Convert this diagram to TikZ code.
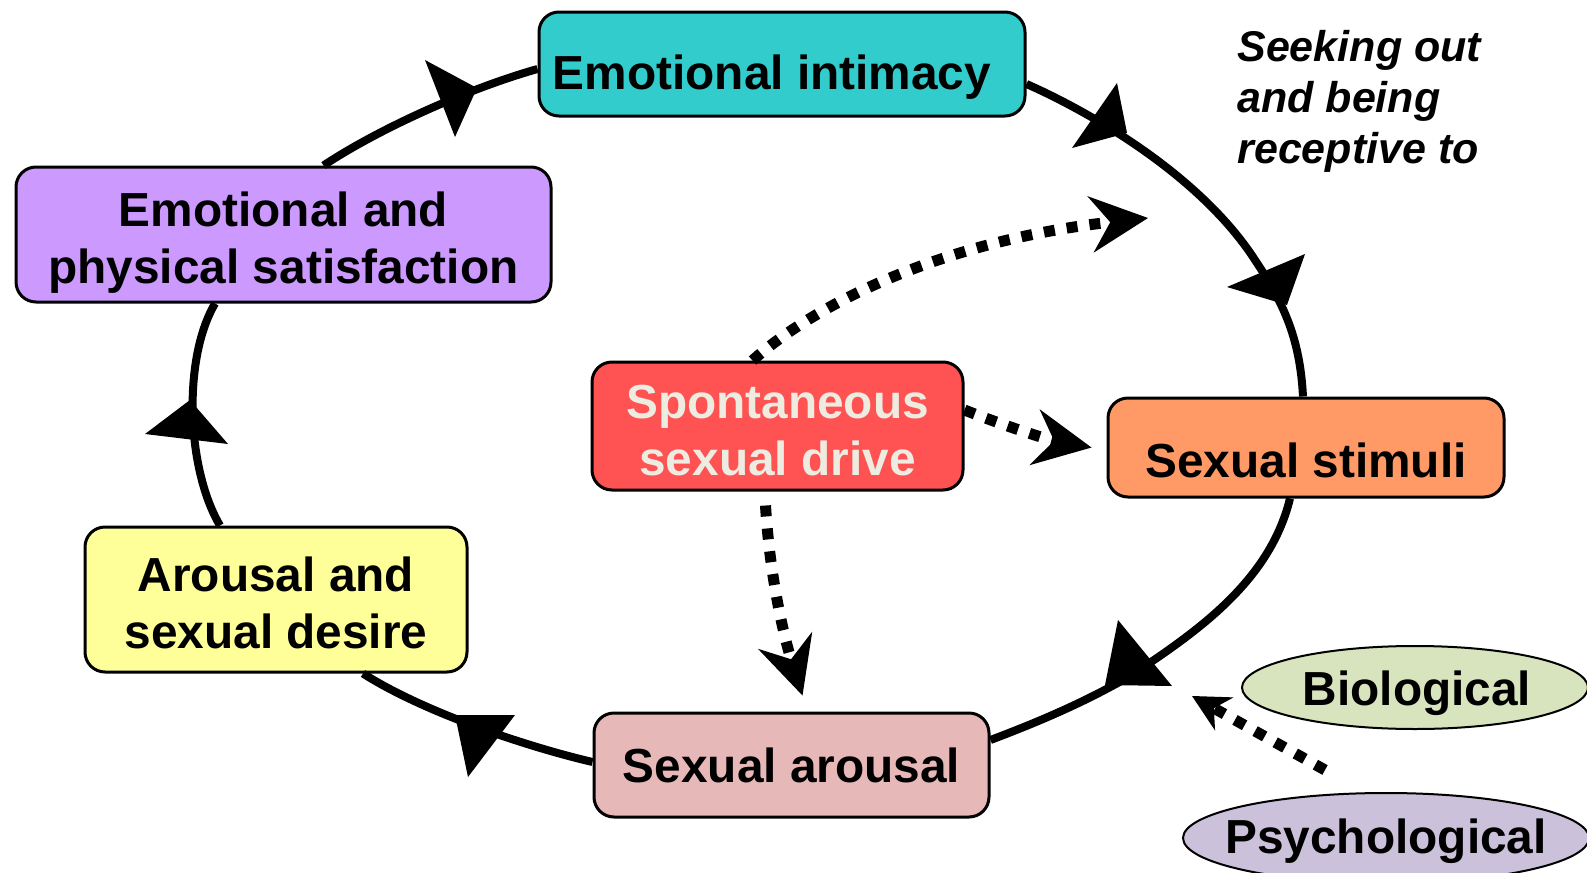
\documentclass[tikz,border=0pt]{standalone}
\usepackage{fontspec}
\setmainfont{Liberation Sans}
\usetikzlibrary{arrows.meta,calc}
\definecolor{intimacy}{HTML}{33CCCC}
\definecolor{satisfy}{HTML}{CC99FF}
\definecolor{drivered}{HTML}{FF5252}
\definecolor{drivetext}{HTML}{EEEBE0}
\definecolor{stimuli}{HTML}{FF9966}
\definecolor{desire}{HTML}{FFFF99}
\definecolor{arousal}{HTML}{E6B9B8}
\definecolor{biogreen}{HTML}{D7E4BD}
\definecolor{psychlilac}{HTML}{CCC1DA}
\begin{document}
\begin{tikzpicture}[x=0.5pt,y=-0.5pt,
	stage/.style={draw=black,line width=1.5pt,rounded corners=10pt,inner sep=0pt,align=center,font=\bfseries\fontsize{23.9}{28.5}\selectfont},
	twoline/.style={text height=49pt,text depth=0pt},
	loopline/.style={line width=4pt},
	drive/.style={line width=5.5pt,dash pattern=on 5.5pt off 6pt,-{Stealth[length=29pt,width=28.5pt,inset=10pt,line width=0pt]}},
	cue/.style={inner sep=0pt,font=\bfseries\fontsize{23.9}{28.5}\selectfont}]
	\useasboundingbox (0,0) rectangle (1587,873);
	\clip (0,0) rectangle (1587,873);
		\draw[line width=1pt,fill=biogreen] (1415,687.5) ellipse (173 and 41.5);
		\draw[line width=1pt,fill=psychlilac] (1386,838) ellipse (203 and 45);
		\node[cue,anchor=base] (bio) at (1417,705) {Biological};
		\node[cue,anchor=base] (psych) at (1386,853) {Psychological};
		\node[inner sep=0pt,anchor=base west,align=left,font=\bfseries\itshape\fontsize{21.5}{25.5}\selectfont] (seek) at (1237,163) {Seeking out\\and being\\receptive to};
		\node[stage,fill=intimacy,minimum width=243pt,minimum height=52pt,text height=25pt,text depth=0pt] (intim) at (782,64) {Emotional intimacy\kern10pt};
		\node[stage,twoline,fill=satisfy,minimum width=267.5pt,minimum height=67.5pt] (sat) at (283.5,234.5) {Emotional and\\physical satisfaction};
		\node[stage,twoline,fill=drivered,text=drivetext,minimum width=185.5pt,minimum height=64pt] (spont) at (777.5,426) {Spontaneous\\sexual drive};
		\node[stage,fill=stimuli,minimum width=198pt,minimum height=49.5pt,text height=30pt,text depth=0pt] (stim) at (1306,447.5) {Sexual stimuli};
		\node[stage,twoline,fill=desire,minimum width=191pt,minimum height=72.5pt] (arous) at (276,599.5) {Arousal and\\sexual desire};
		\node[stage,fill=arousal,minimum width=197.5pt,minimum height=52pt,text height=17pt,text depth=0pt] (sexar) at (791.5,765) {Sexual arousal};
		\coordinate (receptive) at (1148,218);
		\coordinate (psychcue) at (1325,770);
		\coordinate (biocue) at (1192,696);
		\draw[loopline] ($(sat.north)+(40,0)$) .. controls (380,128) and (470,88) .. ($(intim.west)+(0,5)$);
		\draw[loopline] ($(intim.east)+(0,20)$) .. controls (1090,112) and (1200,175) .. (1255,260) .. controls (1285,305) and (1300,340) .. ($(stim.north)+(-3,0)$);
		\draw[loopline] ($(stim.south)+(-16,0)$) .. controls (1270,580) and (1200,630) .. (1130,676) .. controls (1080,705) and (1030,725) .. ($(sexar.east)+(0,-25)$);
		\draw[loopline] ($(sexar.west)+(0,-3)$) .. controls (520,745) and (420,710) .. ($(arous.south)+(87,0)$);
		\draw[loopline] ($(arous.north)+(-56,0)$) .. controls (187,470) and (182,360) .. ($(sat.south)+(-68.5,0)$);
		\fill (425,60) -- (477,88) -- (455,137) -- cycle;
		\fill (1117,83) -- (1127,133) -- (1072,148) -- cycle;
		\fill (1305,254) -- (1287,305) -- (1227,287) -- cycle;
		\fill (1118,620) -- (1172,686) -- (1105,685) -- cycle;
		\fill (455,715) -- (515,715) -- (468,777) -- cycle;
		\fill (145,434) -- (190,400) -- (228,444) -- cycle;
		\draw[drive] ($(spont.north)+(-25,0)$) .. controls (820,300) and (950,240) .. (receptive);
		\draw[drive] ($(spont.east)+(0,-16)$) .. controls (1010,428) and (1050,440) .. ($(stim.west)+(-15,0)$);
		\draw[drive] ($(spont.south)+(-12,14)$) .. controls (770,580) and (785,640) .. ($(sexar.north)+(11,-16)$);
		\draw[drive,-{Stealth[length=18.5pt,width=19pt,inset=6pt,line width=0pt]}] (psychcue) -- (biocue);
	\end{tikzpicture}
\end{document}
